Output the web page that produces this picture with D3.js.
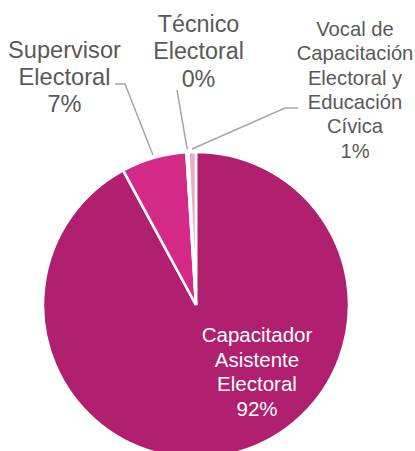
<!DOCTYPE html>
<html>
<head>
<meta charset="utf-8">
<script src="https://cdn.jsdelivr.net/npm/d3@7"></script>
<style>
  html, body { margin: 0; padding: 0; background: #fff; }
  svg { display: block; }
</style>
</head>
<body>
<svg id="chart" width="415" height="451"></svg>
<script>
// ---- data ----
const categories = ["Capacitador Asistente Electoral", "Supervisor Electoral", "Técnico Electoral", "Vocal de Capacitación Electoral y Educación Cívica"];
const values = [92.1, 6.9, 0.2, 0.8];
const percentLabels = ["92%", "7%", "0%", "1%"];
const labelLines = [
  ["Capacitador", "Asistente", "Electoral"],
  ["Supervisor", "Electoral"],
  ["Técnico", "Electoral"],
  ["Vocal de", "Capacitación", "Electoral y", "Educación", "Cívica"]
];
const colors = ["#B0206E", "#D42A87", "#E874B0", "#EDAACA"];

// ---- layout ----
const svg = d3.select("#chart");
const cx = 196, cy = 305, r = 153;
const g = svg.append("g").attr("transform", `translate(${cx},${cy})`);

const pie = d3.pie().sort(null).value(d => d)(values);
const arc = d3.arc().innerRadius(0).outerRadius(r);

g.selectAll("path.slice")
  .data(pie)
  .join("path")
  .attr("class", "slice")
  .attr("d", arc)
  .attr("fill", (d, i) => colors[i])
  .attr("stroke", "#fff")
  .attr("stroke-width", 2.6)
  .attr("stroke-linejoin", "miter");

// label settings in svg coords
const labelCfg = [
  { x: 257, y: 342, fs: 20.5, lh: 24.7, fill: "#ffffff" },
  { x: 64.5, y: 58, fs: 23.6, lh: 27, fill: "#595959", elbow: [125, 84], start: [115, 84] },
  { x: 198.5, y: 32, fs: 23.3, lh: 27.3, fill: "#595959", elbow: null, start: [177, 90] },
  { x: 355, y: 36, fs: 20.2, lh: 24.3, fill: "#595959", elbow: [285, 108], start: [298, 108] }
];

// leader lines
pie.forEach((d, i) => {
  const c = labelCfg[i];
  if (!c.start) return;
  const mid = (d.startAngle + d.endAngle) / 2;
  const px = cx + Math.sin(mid) * (r + 3);
  const py = cy - Math.cos(mid) * (r + 3);
  const pts = [c.start];
  if (c.elbow) pts.push(c.elbow);
  pts.push([px, py]);
  svg.append("path")
    .attr("d", d3.line()(pts))
    .attr("fill", "none")
    .attr("stroke", "#A6A6A6")
    .attr("stroke-width", 1.5);
});

// labels
labelCfg.forEach((c, i) => {
  const lines = labelLines[i].concat([percentLabels[i]]);
  const t = svg.append("text")
    .attr("x", c.x)
    .attr("y", c.y)
    .attr("text-anchor", "middle")
    .style("font-family", "'Liberation Sans', Arial, sans-serif")
    .attr("font-size", c.fs)
    .attr("fill", c.fill);
  lines.forEach((ln, j) => {
    t.append("tspan")
      .attr("x", c.x)
      .attr("y", c.y + j * c.lh)
      .text(ln);
  });
});
</script>
</body>
</html>
